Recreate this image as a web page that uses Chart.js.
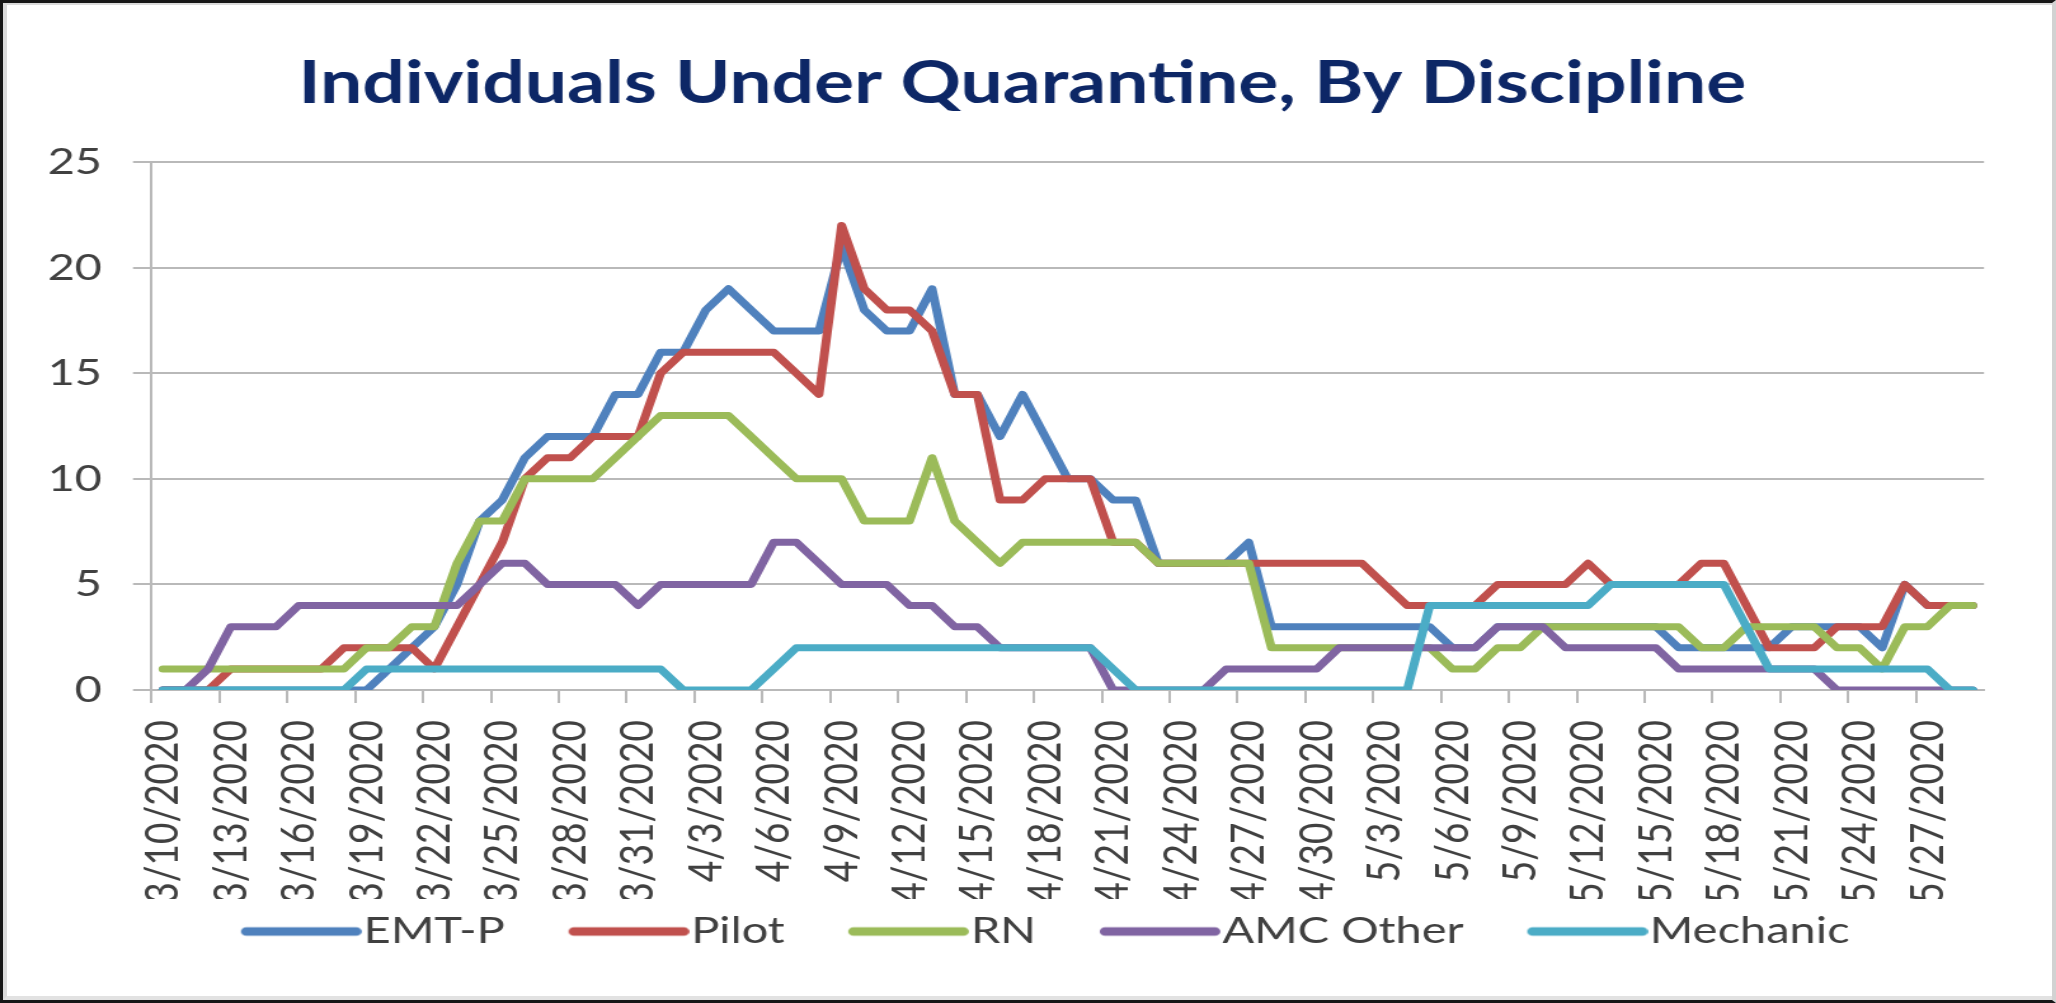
<!DOCTYPE html>
<html>
<head>
<meta charset="utf-8">
<title>Individuals Under Quarantine, By Discipline</title>
<script src="https://cdn.jsdelivr.net/npm/chart.js@4.4.1/dist/chart.umd.min.js"></script>
<style>
  html, body { margin: 0; padding: 0; background: #fff; overflow: hidden; }
  /* the source picture is stretched sideways, so the chart is drawn narrower and widened */
  #stretch { position: absolute; left: 0; top: 0; width: 1619px; height: 1003px;
             transform: scaleX(1.27); transform-origin: 0 0; }
  #frame { position: absolute; left: 0; top: 0; width: 2056px; height: 1003px; box-sizing: border-box;
           border-top: 3px solid #161616; border-left: 3px solid #161616;
           border-bottom: 3px solid #161616; border-right: 4px solid #d2d2d2; pointer-events: none; }
  #frame::after { content: ''; position: absolute; left: 0; top: 0; right: 0; bottom: 0;
                  border-top: 2px solid #dadada; border-left: 4px solid #dadada; border-bottom: 4px solid #e2e2e2; }
</style>
</head>
<body>
<div id="stretch"><canvas id="quarantineChart" width="1619" height="1003"></canvas></div>
<div id="frame"></div>
<script>
const dates = [
  '3/10/2020', '3/11/2020', '3/12/2020', '3/13/2020', '3/14/2020', '3/15/2020', '3/16/2020', '3/17/2020',
  '3/18/2020', '3/19/2020', '3/20/2020', '3/21/2020', '3/22/2020', '3/23/2020', '3/24/2020', '3/25/2020',
  '3/26/2020', '3/27/2020', '3/28/2020', '3/29/2020', '3/30/2020', '3/31/2020',
  '4/1/2020', '4/2/2020', '4/3/2020', '4/4/2020', '4/5/2020', '4/6/2020', '4/7/2020', '4/8/2020',
  '4/9/2020', '4/10/2020', '4/11/2020', '4/12/2020', '4/13/2020', '4/14/2020', '4/15/2020', '4/16/2020',
  '4/17/2020', '4/18/2020', '4/19/2020', '4/20/2020', '4/21/2020', '4/22/2020', '4/23/2020', '4/24/2020',
  '4/25/2020', '4/26/2020', '4/27/2020', '4/28/2020', '4/29/2020', '4/30/2020',
  '5/1/2020', '5/2/2020', '5/3/2020', '5/4/2020', '5/5/2020', '5/6/2020', '5/7/2020', '5/8/2020',
  '5/9/2020', '5/10/2020', '5/11/2020', '5/12/2020', '5/13/2020', '5/14/2020', '5/15/2020', '5/16/2020',
  '5/17/2020', '5/18/2020', '5/19/2020', '5/20/2020', '5/21/2020', '5/22/2020', '5/23/2020', '5/24/2020',
  '5/25/2020', '5/26/2020', '5/27/2020', '5/28/2020', '5/29/2020'
];

const emtP = [0,0,0,0,0,0,0,0,0,0, 1,2,3,5,8,9,11,12,12,12, 14,14,16,16,18,19,18,17,17,17,
              21,18,17,17,19,14,14,12,14,12, 10,10,9,9,6,6,6,6,7,3, 3,3,3,3,3,3,3,2,2,3,
              3,3,3,3,3,3,3,2,2,2, 2,2,3,3,3,3,2,5,4,4, 4];
const pilot = [0,0,0,1,1,1,1,1,2,2, 2,2,1,3,5,7,10,11,11,12, 12,12,15,16,16,16,16,16,15,14,
               22,19,18,18,17,14,14,9,9,10, 10,10,7,7,6,6,6,6,6,6, 6,6,6,6,5,4,4,4,4,5,
               5,5,5,6,5,5,5,5,6,6, 4,2,2,2,3,3,3,5,4,4, 4];
const rn = [1,1,1,1,1,1,1,1,1,2, 2,3,3,6,8,8,10,10,10,10, 11,12,13,13,13,13,12,11,10,10,
            10,8,8,8,11,8,7,6,7,7, 7,7,7,7,6,6,6,6,6,2, 2,2,2,2,2,2,2,1,1,2,
            2,3,3,3,3,3,3,3,2,2, 3,3,3,3,2,2,1,3,3,4, 4];
const amcOther = [0,0,1,3,3,3,4,4,4,4, 4,4,4,4,5,6,6,5,5,5, 5,4,5,5,5,5,5,7,7,6,
                  5,5,5,4,4,3,3,2,2,2, 2,2,0,0,0,0,0,1,1,1, 1,1,2,2,2,2,2,2,2,3,
                  3,3,2,2,2,2,2,1,1,1, 1,1,1,1,0,0,0,0,0,0, 0];
const mechanic = [0,0,0,0,0,0,0,0,0,1, 1,1,1,1,1,1,1,1,1,1, 1,1,1,0,0,0,0,1,2,2,
                  2,2,2,2,2,2,2,2,2,2, 2,2,1,0,0,0,0,0,0,0, 0,0,0,0,0,0,4,4,4,4,
                  4,4,4,4,5,5,5,5,5,5, 3,1,1,1,1,1,1,1,1,0, 0];

const seriesNames = ['EMT-P', 'Pilot', 'RN', 'AMC Other', 'Mechanic'];
const seriesColors = ['#4F81BD', '#C0504D', '#9BBB59', '#8064A2', '#4BACC6'];
const yTicks = [0, 5, 10, 15, 20, 25];

const TEXT = '#404040';
const GRID = '#b9b9b9';
const FONT = 'Lato';

// legend: a long line swatch sitting right against its label
const LEG_FONT = 37, LEG_LINE = 95, LEG_GAP = 1.6, LEG_SHIFT = 36, LEG_PAD = 14, LEG_THICK = 8.5;
const legBox = LEG_LINE + LEG_SHIFT + LEG_GAP - LEG_FONT / 2;
const legImgW = Math.ceil(legBox + LEG_FONT - 2 * LEG_GAP);

function legendLine(color) {
    const c = document.createElement('canvas');
    c.width = legImgW;
    c.height = 16;
    const g = c.getContext('2d');
    const start = LEG_SHIFT - legBox / 2 + legImgW / 2;
    g.strokeStyle = color;
    g.lineWidth = LEG_THICK;
    g.lineCap = 'round';
    g.beginPath();
    g.moveTo(start + LEG_THICK / 2, 8);
    g.lineTo(start + LEG_LINE - LEG_THICK / 2, 8);
    g.stroke();
    return c;
}

function drawQuarantineChart() {
    const ctx = document.getElementById('quarantineChart').getContext('2d');
    const values = [emtP, pilot, rn, amcOther, mechanic];

    const datasets = seriesNames.map((name, i) => ({
        label: name,
        data: values[i],
        borderColor: seriesColors[i],
        backgroundColor: seriesColors[i],
        borderWidth: 7,
        borderJoinStyle: 'round',
        borderCapStyle: 'round',
        pointRadius: 0,
        pointHoverRadius: 0,
        tension: 0,
        fill: false,
        order: seriesNames.length - i   // later series on top, as in the original
    }));

    window.quarantineChart = new Chart(ctx, {
        type: 'line',
        data: { labels: dates, datasets: datasets },
        options: {
            responsive: false,
            animation: false,
            events: [],
            layout: { padding: { left: 0, right: 9, top: 0, bottom: 43 } },
            plugins: {
                title: {
                    display: true,
                    text: 'Individuals Under Quarantine, By Discipline',
                    color: '#0D2766',
                    font: { family: FONT, size: 59, weight: 'bold', lineHeight: 1.2 },
                    padding: { top: 48.6, bottom: 42.7 }
                },
                legend: {
                    position: 'bottom',
                    labels: {
                        usePointStyle: true,
                        pointStyleWidth: legBox,
                        padding: LEG_PAD,
                        color: TEXT,
                        font: { family: FONT, size: LEG_FONT },
                        generateLabels: chart => chart.data.datasets.map((ds, i) => ({
                            text: ds.label,
                            fillStyle: ds.borderColor,
                            strokeStyle: ds.borderColor,
                            lineWidth: 0,
                            pointStyle: legendLine(ds.borderColor),
                            fontColor: TEXT,
                            hidden: false,
                            datasetIndex: i
                        }))
                    }
                },
                tooltip: { enabled: false }
            },
            scales: {
                x: {
                    offset: true,
                    grid: {
                        offset: true,
                        drawOnChartArea: false,
                        drawTicks: true,
                        tickLength: 13,
                        lineWidth: 2,
                        color: c => (c.index % 3 === 0 ? GRID : 'rgba(0,0,0,0)')
                    },
                    border: { color: GRID, width: 2 },
                    ticks: {
                        autoSkip: false,
                        minRotation: 90,
                        maxRotation: 90,
                        padding: 17,
                        color: TEXT,
                        font: { family: FONT, size: 37 },
                        callback: (v, i) => (i % 3 === 0 ? dates[i] : '')
                    },
                    // keep the plot bottom at y = 690 above the legend box
                    afterFit: s => { s.height = 1003 - 43 - (LEG_PAD + LEG_FONT + 10) - 690; }
                },
                y: {
                    min: yTicks[0],
                    max: yTicks[yTicks.length - 1],
                    afterBuildTicks: s => { s.ticks = yTicks.map(v => ({ value: v })); },
                    grid: { color: GRID, lineWidth: 2, tickLength: 14.7 },
                    border: { color: GRID, width: 2 },
                    ticks: {
                        padding: 24.4,
                        color: TEXT,
                        font: { family: FONT, size: 37 }
                    },
                    afterFit: s => { s.width = 119.4; }
                },
                // empty axis on the right only holds the blank margin beside the plot
                rightMargin: {
                    type: 'linear',
                    position: 'right',
                    grid: { display: false, drawTicks: false },
                    border: { display: false },
                    ticks: { display: false },
                    afterFit: s => { s.width = 1619 - 9 - 1562.2; }
                }
            }
        }
    });
}

Promise.all([
    document.fonts.load('37px Lato'),
    document.fonts.load('bold 59px Lato')
]).then(drawQuarantineChart, drawQuarantineChart);
</script>
</body>
</html>
